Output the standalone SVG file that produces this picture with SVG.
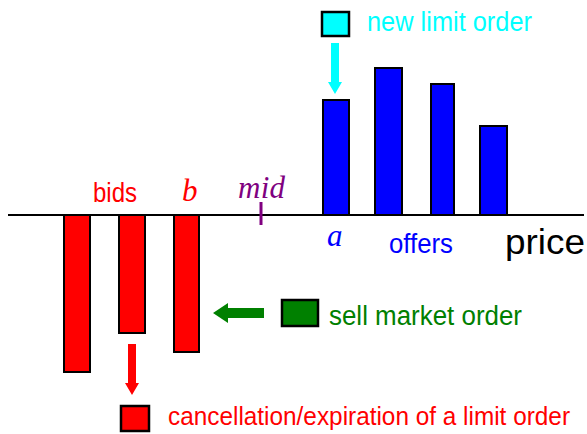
<svg xmlns="http://www.w3.org/2000/svg" width="587" height="434" viewBox="0 0 587 434">
<style>
.bid{fill:#ff0000;stroke:#000;stroke-width:2}
.ask{fill:#0000ff;stroke:#000;stroke-width:2}
.lbl{font-family:"Liberation Sans",Arial,sans-serif;font-size:27px}
.it{font-family:"Liberation Serif","Times New Roman",serif;font-style:italic;font-size:31px}
.box{stroke:#000;stroke-width:2.5}
</style>
<rect width="587" height="434" fill="#fff"/>
<g id="axis">
<line x1="8" y1="215" x2="584" y2="215" stroke="#000" stroke-width="2"/>
<text class="lbl" x="505" y="254" style="font-size:35px" textLength="80" lengthAdjust="spacingAndGlyphs" fill="#000">price</text>
</g>
<g id="bids">
<rect class="bid" x="64" y="215" width="26" height="157"/>
<rect class="bid" x="119" y="215" width="26" height="118"/>
<rect class="bid" x="174" y="215" width="25" height="137"/>
<text class="lbl" x="93" y="202" textLength="44" lengthAdjust="spacingAndGlyphs" fill="#ff0000">bids</text>
<text class="it" x="182" y="201" fill="#ff0000">b</text>
</g>
<g id="mid">
<line x1="261" y1="202" x2="261" y2="225" stroke="#800080" stroke-width="3"/>
<text class="it" x="238" y="198" textLength="47" fill="#800080">mid</text>
</g>
<g id="offers">
<rect class="ask" x="323" y="100" width="26" height="115"/>
<rect class="ask" x="375" y="68" width="27" height="147"/>
<rect class="ask" x="431" y="84" width="23" height="131"/>
<rect class="ask" x="480" y="126" width="27" height="89"/>
<text class="it" x="327" y="246" fill="#0000ff">a</text>
<text class="lbl" x="389" y="253" textLength="64" lengthAdjust="spacingAndGlyphs" fill="#0000ff">offers</text>
</g>
<g id="new-limit-order">
<rect class="box" x="322" y="12" width="27" height="24" fill="#00ffff"/>
<text class="lbl" x="367" y="31" textLength="165" lengthAdjust="spacingAndGlyphs" fill="#00ffff">new limit order</text>
</g>
<g id="sell-market-order">
<rect class="box" x="282" y="300" width="36" height="26" fill="#008000"/>
<text class="lbl" x="329" y="325" textLength="193" lengthAdjust="spacingAndGlyphs" fill="#008000">sell market order</text>
</g>
<g id="cancellation">
<rect class="box" x="121" y="406" width="28" height="25" fill="#ff0000"/>
<text class="lbl" x="168" y="425" style="font-size:25px" textLength="402" lengthAdjust="spacingAndGlyphs" fill="#ff0000">cancellation/expiration of a limit order</text>
</g>
<g id="connectors">
<polygon points="331,43 339,43 339,82 342,82 335,94 328,82 331,82" fill="#00ffff"/>
<polygon points="264,308 228,308 228,303 213,313 228,323 228,318 264,318" fill="#008000"/>
<polygon points="128,344 136,344 136,383 139,383 132,395 125,383 128,383" fill="#ff0000"/>
</g>
</svg>
